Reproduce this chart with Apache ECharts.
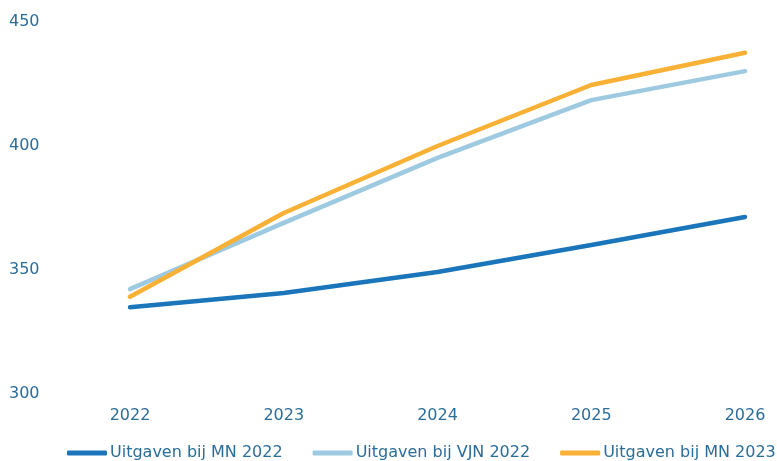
<!DOCTYPE html>
<html><head><meta charset="utf-8">
<script src="https://cdn.jsdelivr.net/npm/echarts@6/dist/echarts.min.js"></script>
<style>html,body{margin:0;padding:0;background:#fff}#c{width:777px;height:461px}</style>
</head><body><div id="c"></div>
<script>
const categories = ['2022','2023','2024','2025','2026'];
const mn2022 = [334.8, 340.5, 349.0, 359.9, 371.2];
const vjn2022 = [342.1, 368.8, 395.0, 418.3, 430.0];
const mn2023 = [339.0, 372.8, 399.8, 424.4, 437.4];
const seriesNames = ['Uitgaven bij MN 2022','Uitgaven bij VJN 2022','Uitgaven bij MN 2023'];
const yTicks = {min:300, max:450, interval:50};

const txt = '#2b6d99';
const font = 'DejaVu Sans';
const chart = echarts.init(document.getElementById('c'));
function mk(name, data, color){
  return {name, type:'line', data, symbol:'none', smooth:false,
    lineStyle:{width:4.5, color, cap:'round'}, itemStyle:{color}};
}
chart.setOption({
  animation:false,
  textStyle:{fontFamily:font},
  grid:{left:130, right:32, top:21.5, bottom:67.5},
  xAxis:{type:'category', data:categories, boundaryGap:false,
    axisLine:{show:false}, axisTick:{show:false}, splitLine:{show:false},
    axisLabel:{color:txt, fontSize:16, fontFamily:font, margin:14}},
  yAxis:{type:'value', min:yTicks.min, max:yTicks.max, interval:yTicks.interval,
    axisLine:{show:false}, axisTick:{show:false}, splitLine:{show:false},
    axisLabel:{color:txt, fontSize:16, fontFamily:font, align:'left', margin:121}},
  legend:{left:67, top:445, width:720, padding:0, itemWidth:40, itemHeight:5, itemGap:30, icon:'roundRect',
    textStyle:{color:txt, fontSize:16, fontFamily:font, padding:[0,0,0,-2]},
    data:seriesNames},
  series:[
    mk(seriesNames[0], mn2022, '#1a75bb'),
    mk(seriesNames[1], vjn2022, '#9ecae1'),
    mk(seriesNames[2], mn2023, '#f8b035')
  ]
});
</script></body></html>
